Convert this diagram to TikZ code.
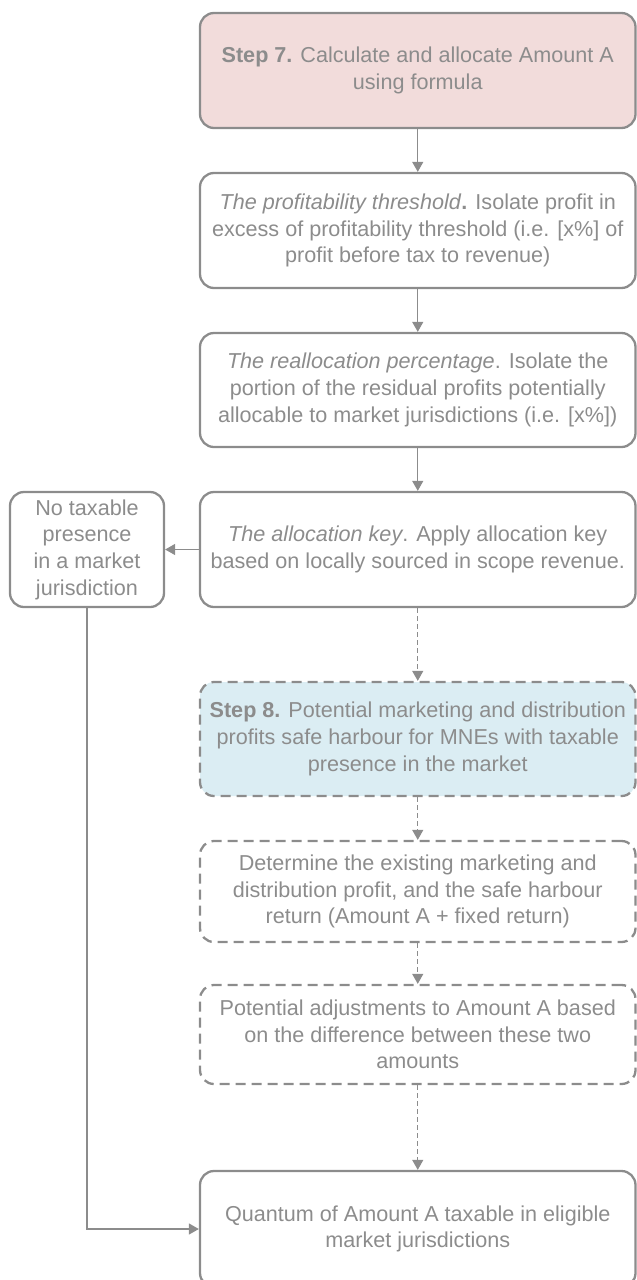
\documentclass[tikz,border=0pt]{standalone}
\usepackage{fontspec}
\setmainfont{Liberation Sans}
\usetikzlibrary{arrows.meta}
\definecolor{ln}{HTML}{8C8C8C}
\definecolor{tx}{HTML}{8C8C8C}
\definecolor{pinkfill}{HTML}{F2DCDB}
\definecolor{bluefill}{HTML}{DBEDF3}
\begin{document}
\begin{tikzpicture}[x=1pt,y=1pt,
  box/.style={draw=ln, line width=2.3pt, rounded corners=14pt, text=tx, align=center,
    inner sep=0pt, font=\fontsize{21.6}{26.7}\selectfont, minimum width=435.5pt},
  dbox/.style={box, dash pattern=on 10pt off 6pt},
  con/.style={draw=ln, line width=1.3pt, -{Triangle[length=10pt,width=11pt]}},
  dcon/.style={con, dash pattern=on 5pt off 3pt}]
\useasboundingbox (0,0) rectangle (637,-1280);
\node[box, fill=pinkfill, minimum height=115pt] (s7) at (417.75,-70.5)
  {\textbf{Step 7.} Calculate and allocate Amount A\\using formula};
\node[box, minimum height=115pt] (pt) at (417.75,-230.5)
  {\textit{The profitability threshold}\textbf{.} Isolate profit in\\excess of profitability threshold (i.e. [x\%] of\\profit before tax to revenue)};
\node[box, minimum height=114pt] (rp) at (417.75,-390)
  {\textit{The reallocation percentage}. Isolate the\\portion of the residual profits potentially\\allocable to market jurisdictions (i.e. [x\%])};
\node[box, minimum height=115pt] (ak) at (417.75,-549.5)
  {\textit{The allocation key}. Apply allocation key\\based on locally sourced in scope revenue.};
\node[box, minimum width=154pt, minimum height=115pt] (nt) at (87,-549.5)
  {No taxable\\presence\\in a market\\jurisdiction};
\node[dbox, fill=bluefill, minimum height=114pt] (s8) at (417.75,-739)
  {\textbf{Step 8.} Potential marketing and distribution\\profits safe harbour for MNEs with taxable\\presence in the market};
\node[dbox, minimum height=101pt] (de) at (417.75,-891.5)
  {Determine the existing marketing and\\distribution profit, and the safe harbour\\return (Amount A + fixed return)};
\node[dbox, minimum height=99pt] (pa) at (417.75,-1034.5)
  {Potential adjustments to Amount A based\\on the difference between these two\\amounts};
\node[box, minimum height=116pt] (q) at (417.75,-1229)
  {Quantum of Amount A taxable in eligible\\market jurisdictions};
\draw[con] (s7) -- (pt);
\draw[con] (pt) -- (rp);
\draw[con] (rp) -- (ak);
\draw[con] (ak) -- (nt);
\draw[dcon] (ak) -- (s8);
\draw[dcon] (s8) -- (de);
\draw[dcon] (de) -- (pa);
\draw[dcon] (pa) -- (q);
\draw[con] (nt.south) |- (q.west);
\end{tikzpicture}
\end{document}
